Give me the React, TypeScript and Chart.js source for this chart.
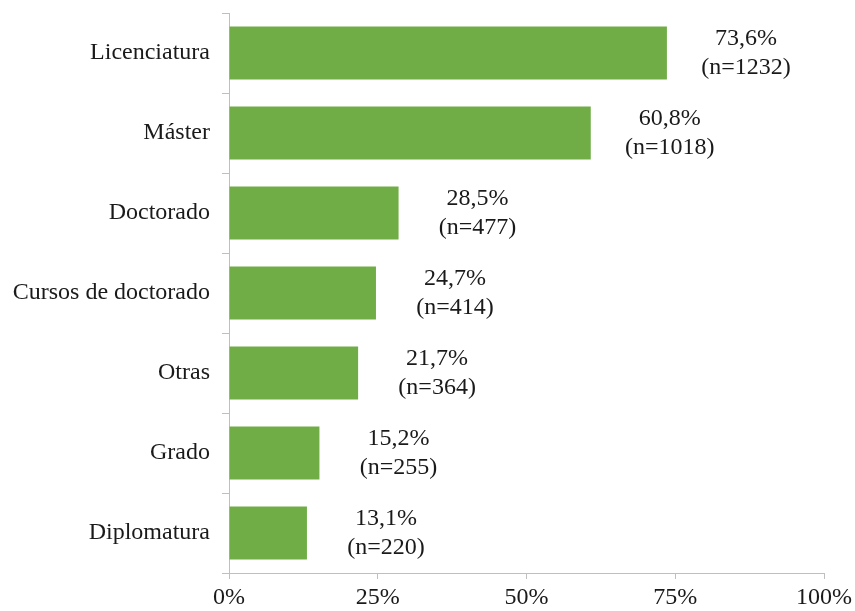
import React, { useEffect, useRef } from "react";
import { Chart, registerables } from "chart.js";

Chart.register(...registerables);

const categories = [
  "Licenciatura",
  "Máster",
  "Doctorado",
  "Cursos de doctorado",
  "Otras",
  "Grado",
  "Diplomatura",
];
const percentages = [73.6, 60.8, 28.5, 24.7, 21.7, 15.2, 13.1];
const counts = [1232, 1018, 477, 414, 364, 255, 220];
const xTicks = [0, 25, 50, 75, 100];

const FONT = '"Liberation Serif", "Times New Roman", serif';
const TEXT = "#1a1a1a";
const AXIS = "#BFBFBF";
const BAR = "#70AD47";

const W = 855;
const H = 611;

const fmt = (v: number) => v.toFixed(1).replace(".", ",") + "%";

const labelPlugin = {
  id: "barLabels",
  afterDatasetsDraw(chart: any) {
    const ctx = chart.ctx;
    const meta = chart.getDatasetMeta(0);
    ctx.save();
    ctx.font = `24px ${FONT}`;
    ctx.fillStyle = TEXT;
    ctx.textAlign = "center";
    ctx.textBaseline = "middle";
    meta.data.forEach((bar: any, i: number) => {
      const x = bar.x + 79;
      ctx.fillText(fmt(percentages[i]), x, bar.y - 14);
      ctx.fillText(`(n=${counts[i]})`, x, bar.y + 15);
    });
    ctx.restore();
  },
};

export default function App() {
  const ref = useRef<HTMLCanvasElement>(null);
  useEffect(() => {
    if (!ref.current) return;
    const chart = new Chart(ref.current, {
      type: "bar",
      data: {
        labels: categories,
        datasets: [
          {
            data: percentages,
            backgroundColor: BAR,
            borderWidth: 0,
            barPercentage: 0.66,
            categoryPercentage: 1,
          },
        ],
      },
      options: {
        indexAxis: "y",
        animation: false,
        responsive: false,
        devicePixelRatio: 1,
        layout: { padding: { top: 13, right: 31, left: 0, bottom: 0 } },
        plugins: {
          legend: { display: false },
          tooltip: { enabled: false },
        },
        scales: {
          x: {
            min: 0,
            max: 100,
            afterBuildTicks: (scale: any) => {
              scale.ticks = xTicks.map((v) => ({ value: v }));
            },
            afterFit: (scale: any) => {
              scale.height = 38;
              scale.paddingLeft = 0;
              scale.paddingRight = 0;
            },
            border: { display: true, color: AXIS, width: 1 },
            grid: {
              drawOnChartArea: false,
              drawTicks: true,
              tickLength: 6,
              color: AXIS,
            },
            ticks: {
              callback: (v: any) => v + "%",
              font: { family: FONT, size: 24 },
              color: TEXT,
              padding: 4,
              maxRotation: 0,
            },
          },
          y: {
            afterFit: (scale: any) => {
              scale.width = 229;
              scale.paddingTop = 0;
              scale.paddingBottom = 0;
            },
            border: { display: true, color: AXIS, width: 1 },
            grid: {
              drawOnChartArea: false,
              drawTicks: true,
              tickLength: 7,
              color: AXIS,
              offset: true,
            },
            ticks: {
              font: { family: FONT, size: 24 },
              color: TEXT,
              padding: 12,
            },
          },
        },
      },
      plugins: [labelPlugin],
    } as any);
    return () => chart.destroy();
  }, []);

  return (
    <div
      style={{
        position: "fixed",
        left: 0,
        top: 0,
        width: W,
        height: H,
        background: "#fff",
      }}
    >
      <canvas
        ref={ref}
        width={W}
        height={H}
        style={{ width: W + "px", height: H + "px", display: "block" }}
      />
    </div>
  );
}
